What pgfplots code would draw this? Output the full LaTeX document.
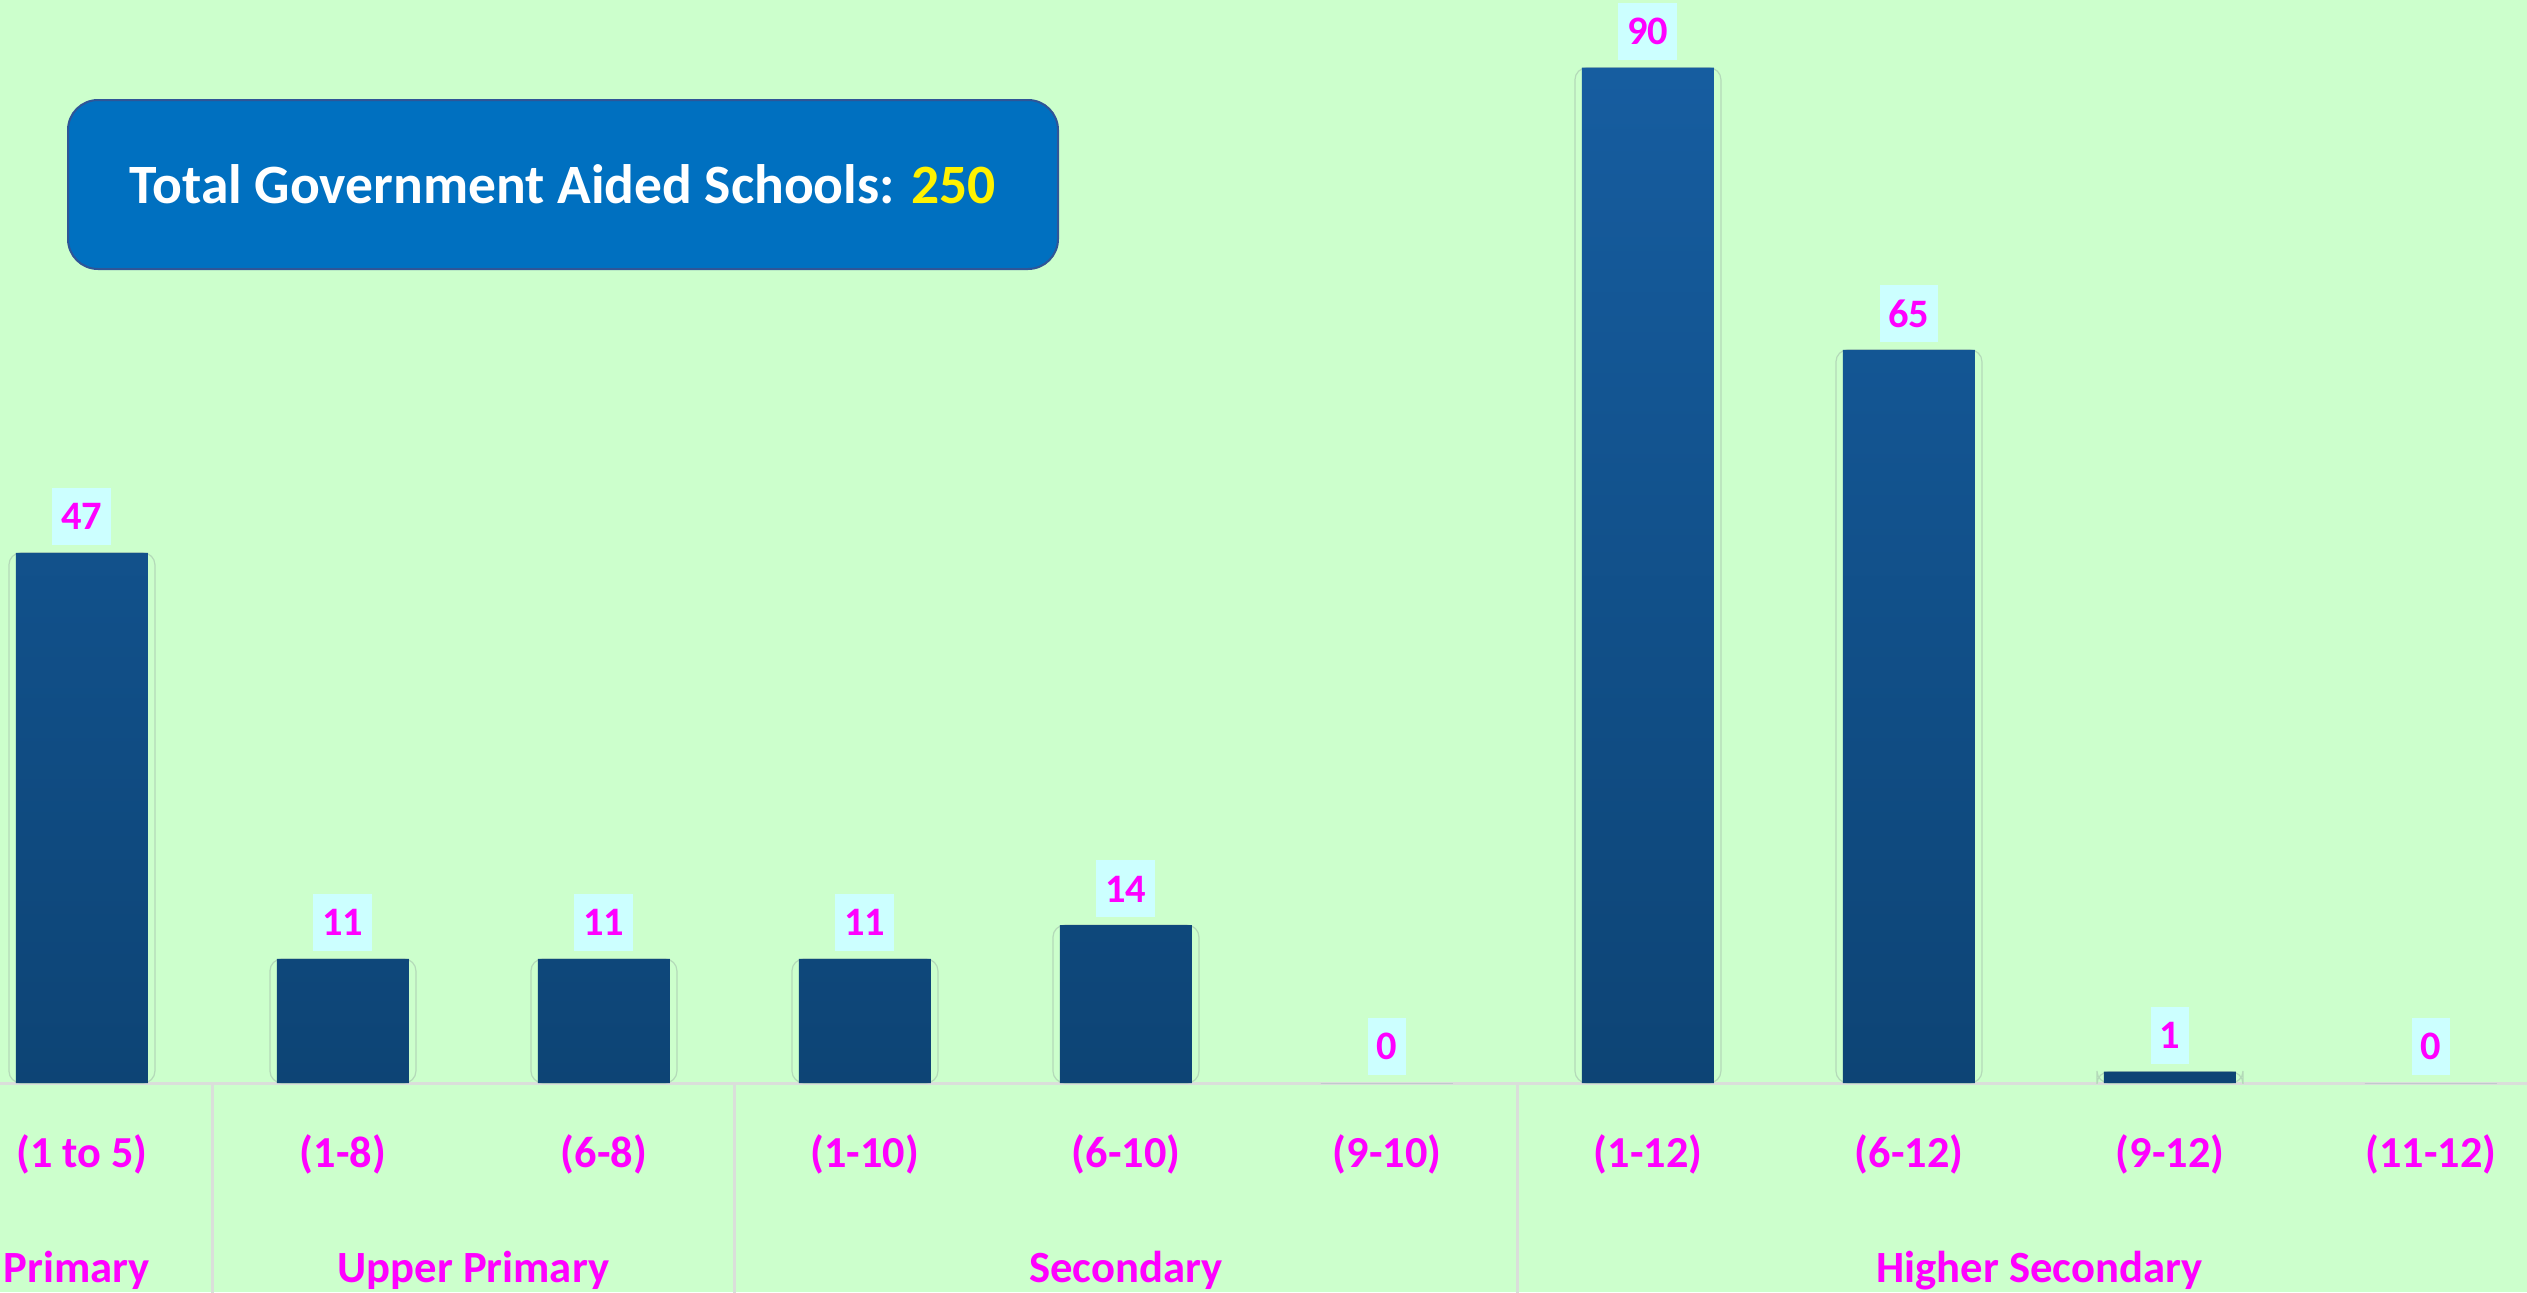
\documentclass[border=0pt]{standalone}
\usepackage{pgfplots}
\pgfplotsset{compat=1.18}
\usepackage{fontspec}
\setmainfont{Carlito}

\definecolor{bg}{HTML}{CCFFCC}
\definecolor{barTop}{RGB}{22,93,160}
\definecolor{barBot}{RGB}{13,68,117}
\definecolor{halo}{RGB}{180,218,185}
\definecolor{lblFill}{HTML}{CCFFFF}
\definecolor{lblText}{HTML}{FF00FF}
\definecolor{boxFill}{HTML}{0070C0}
\definecolor{boxLine}{HTML}{2F5597}
\definecolor{sepGray}{RGB}{218,222,218}

\begin{document}
\begin{tikzpicture}
% page background
\fill[bg] (0,-2.09) rectangle (25.27,10.83);

\begin{axis}[
    at={(0,0)}, anchor=south west,
    scale only axis,
    width=25.27cm, height=10.83cm,
    xmin=-0.314, xmax=9.368,
    ymin=0, ymax=96,
    axis x line*=bottom,
    axis y line=none,
    x axis line style={sepGray, line width=0.03cm, -},
    major tick length=0pt,
    ytick=\empty,
    xtick={0,...,9},
    xticklabels={(1 to 5),(1-8),(6-8),(1-10),(6-10),(9-10),(1-12),(6-12),(9-12),(11-12)},
    xticklabel style={font=\fontsize{12.6}{14}\selectfont\bfseries,
        text=lblText, anchor=base, yshift=-0.84cm},
    /pgf/number format/assume math mode=true,
    ybar, bar shift=0pt,
    clip=false,
]

% faint glow round the bars
\addplot[bar width=1.46cm, draw=halo, line width=0.012cm, fill=none,
    rounded corners=0.12cm, forget plot] coordinates
    {(0,47) (1,11) (2,11) (3,11) (4,14) (6,90) (7,65) (8,1)};

% number of schools per category
\addplot[bar width=1.32cm, draw=none, top color=barTop, bottom color=barBot,
    nodes near coords,
    every node near coord/.append style={
        font=\fontsize{11.5}{13}\selectfont\bfseries,
        text=lblText, fill=lblFill,
        inner xsep=0.09cm, inner ysep=0pt,
        minimum height=0.57cm,
        anchor=south, yshift=0.07cm}] coordinates
    {(0,47) (1,11) (2,11) (3,11) (4,14) (5,0) (6,90) (7,65) (8,1) (9,0)};

% group separators below the baseline
\draw[sepGray, line width=0.03cm] (axis cs:0.5,0) -- ([yshift=-2.2cm]axis cs:0.5,0);
\draw[sepGray, line width=0.03cm] (axis cs:2.5,0) -- ([yshift=-2.2cm]axis cs:2.5,0);
\draw[sepGray, line width=0.03cm] (axis cs:5.5,0) -- ([yshift=-2.2cm]axis cs:5.5,0);

% group names
\begin{scope}[every node/.style={font=\fontsize{12.7}{14}\selectfont\bfseries,
        text=lblText, anchor=base, yshift=-1.99cm}]
\node at (axis cs:-0.02,0) {Primary};
\node at (axis cs:1.5,0) {Upper Primary};
\node at (axis cs:4.0,0) {Secondary};
\node at (axis cs:7.5,0) {Higher Secondary};
\end{scope}

\end{axis}

% total box
\node[fill=boxFill, draw=boxLine, line width=0.02cm, rounded corners=0.3cm,
      minimum width=9.9cm, minimum height=1.69cm,
      font=\fontsize{15.8}{18}\selectfont\bfseries, text=white]
    at (5.63,8.985) {Total Government Aided Schools: \textcolor{yellow}{250}};

\pgfresetboundingbox
\useasboundingbox (0,-2.09) rectangle (25.27,10.83);
\end{tikzpicture}
\end{document}
